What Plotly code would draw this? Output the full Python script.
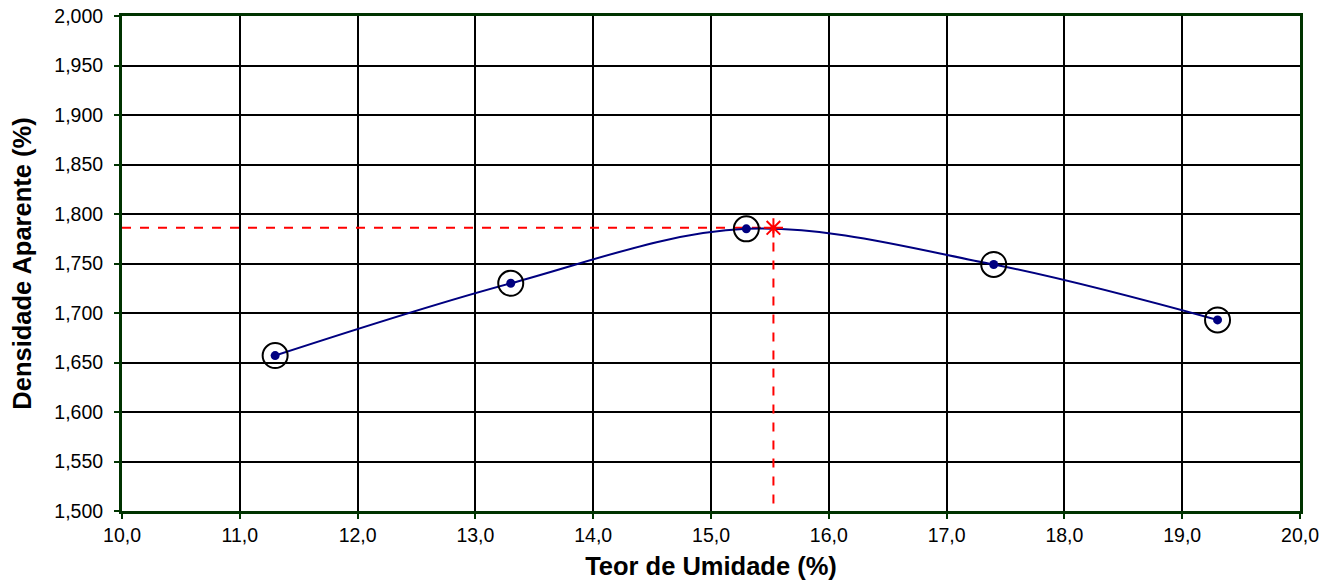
import plotly.graph_objects as go

umidade = [11.3, 13.3, 15.3, 17.4, 19.3]
densidade = [1.657, 1.730, 1.785, 1.749, 1.693]
umidade_otima = [15.53]
densidade_max = [1.786]

x_ticks = [10, 11, 12, 13, 14, 15, 16, 17, 18, 19, 20]
y_ticks = [1.50, 1.55, 1.60, 1.65, 1.70, 1.75, 1.80, 1.85, 1.90, 1.95, 2.00]

FONT = "Arial, Liberation Sans, sans-serif"

fig = go.Figure()

# dashed guide lines
fig.add_trace(go.Scatter(x=[10, umidade_otima[0], umidade_otima[0]],
                         y=[densidade_max[0], densidade_max[0], 1.5],
                         mode="lines", line=dict(color="#ff0000", width=2, dash="dash"),
                         hoverinfo="skip", showlegend=False))
# smooth curve with dots
fig.add_trace(go.Scatter(x=umidade, y=densidade, mode="lines+markers",
                         line=dict(color="#000080", width=2, shape="spline", smoothing=1),
                         marker=dict(color="#000080", size=9),
                         showlegend=False))
# open circles
fig.add_trace(go.Scatter(x=umidade, y=densidade, mode="markers",
                         marker=dict(symbol="circle-open", size=25, color="#000000",
                                     line=dict(width=2, color="#000000")),
                         showlegend=False))
# max point star
fig.add_trace(go.Scatter(x=umidade_otima, y=densidade_max, mode="markers",
                         marker=dict(symbol="asterisk-open", size=16, color="#ff0000",
                                     line=dict(width=2, color="#ff0000")),
                         showlegend=False))

axis_common = dict(showgrid=True, gridcolor="#000000", gridwidth=2,
                   showline=True, linecolor="#003300", linewidth=3, mirror=True,
                   ticks="outside", ticklen=5, tickcolor="#003300", tickwidth=2,
                   zeroline=False, automargin=False,
                   tickfont=dict(family=FONT, size=19.5, color="#000000"))

fig.update_xaxes(range=[10, 20], tickvals=x_ticks, tickformat=".1f",
                 title=dict(text="<b>Teor de Umidade (%)</b>", standoff=12,
                            font=dict(family=FONT, size=25.5, color="#000000")),
                 **axis_common)
fig.update_yaxes(range=[1.5, 2.0], tickvals=y_ticks, tickformat=".3f",
                 ticklabelstandoff=7,
                 title=dict(text="<b>Densidade Aparente (%)</b>", standoff=16,
                            font=dict(family=FONT, size=25.5, color="#000000")),
                 **axis_common)

fig.update_layout(width=1320, height=580, separators=",.",
                  margin=dict(l=122, r=20, t=16, b=69),
                  plot_bgcolor="#ffffff", paper_bgcolor="#ffffff",
                  font=dict(family=FONT, color="#000000"))

fig.write_html("out.html", config={"displayModeBar": False},
               post_script="document.body.style.margin='0';")
